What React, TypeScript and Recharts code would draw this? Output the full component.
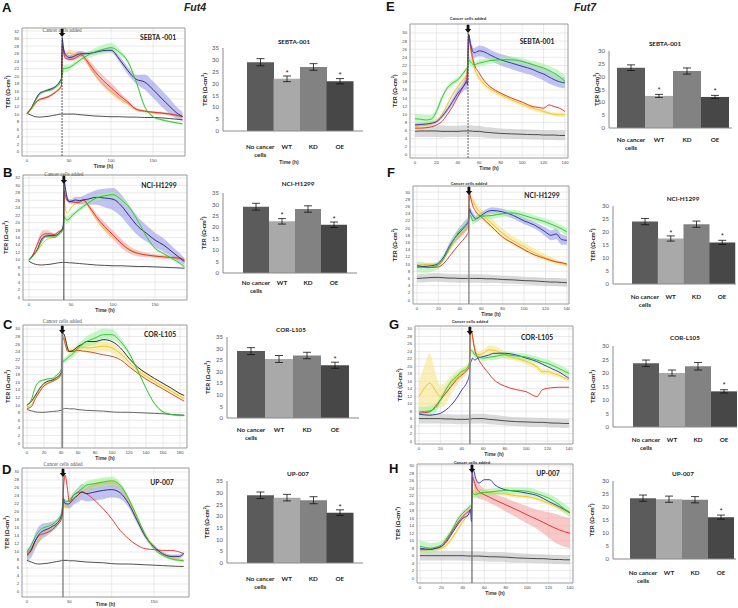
import React from 'react';
import {
  ComposedChart,
  Line,
  Area,
  XAxis,
  YAxis,
  CartesianGrid,
  ReferenceLine,
  ReferenceArea,
  BarChart,
  Bar,
  ErrorBar,
  LabelList,
  Cell,
} from 'recharts';

// ---- time grids (h) ----
const T4 = [0, 5, 10, 15, 20, 25, 30, 35, 40, 41, 42, 43, 45, 48, 50, 55, 60, 65, 70, 80, 90, 100, 110, 120, 130, 140, 150, 160, 170, 180, 185];
const T7 = [0, 5, 10, 15, 20, 25, 30, 35, 40, 45, 47, 48, 49, 50, 52, 55, 60, 65, 70, 80, 90, 100, 110, 115, 120, 125, 130, 135, 140];

const Y32 = [0, 2, 4, 6, 8, 10, 12, 14, 16, 18, 20, 22, 24, 26, 28, 30, 32];
const Y30 = [0, 2, 4, 6, 8, 10, 12, 14, 16, 18, 20, 22, 24, 26, 28, 30];
const X50 = [0, 50, 100, 150];
const X20L = [0, 20, 40, 60, 80, 100, 120, 140, 160, 180];
const X20 = [0, 20, 40, 60, 80, 100, 120, 140];

// ---- Fut4 / SEBTA-001 (A) ----
const A_black = [10.2, 9.7, 9.3, 9.2, 9.3, 9.4, 9.6, 9.8, 10, 10, 10, 10, 10, 10, 10, 10, 9.9, 9.8, 9.7, 9.5, 9.4, 9.3, 9.3, 9.2, 9.2, 9.1, 9.1, 9, 8.8, 8.6, 8.5];
const A_yellow = [10, 11.2, 12.8, 13.8, 14.1, 14.5, 15.2, 16, 17, 17.5, 26, 26.2, 26, 26, 26.2, 25.8, 25.8, 25.8, 24.2, 20.8, 18, 16, 14.2, 12.8, 11.2, 10.7, 10.4, 10.2, 10, 9.5, 9.3];
const A_red = [10.2, 11.5, 13, 13.9, 14.2, 14.6, 15.2, 16, 17.2, 17.8, 28.3, 27, 25, 24.6, 24.5, 24.6, 25.2, 25.7, 24.5, 21.5, 19, 17, 15, 13.2, 11.3, 10.8, 10.5, 10.3, 10, 9.6, 9.3];
const A_navy = [10.2, 11.6, 13.8, 15.5, 16, 16.4, 16.8, 17.5, 19, 19.5, 30, 28, 26, 25.2, 25, 25.2, 25.8, 26, 26, 26.3, 26.8, 26.9, 24.5, 21.5, 19.2, 18.5, 16.5, 14.2, 12, 10, 9.4];
const A_green = [10.2, 11.5, 13.5, 15.2, 15.9, 16.2, 16.5, 17.3, 18.5, 19.2, 20.5, 22, 22.1, 22.2, 22.3, 23, 23.8, 24.6, 25.3, 26.4, 27.1, 27.6, 26.4, 23.9, 18.5, 12, 9.3, 8.5, 8, 7.6, 7.4];
const A_yellowS = [0.3, 0.3, 0.3, 0.3, 0.3, 0.3, 0.3, 0.3, 0.3, 0.3, 0.5, 0.8, 0.8, 0.8, 0.9, 1, 1, 0.8, 0.6, 0.5, 0.6, 0.8, 0.8, 0.5, 0.4, 0.3, 0.3, 0.3, 0.3, 0.3, 0.3];
const A_redS = [0.3, 0.3, 0.3, 0.3, 0.3, 0.3, 0.3, 0.3, 0.3, 0.3, 0.5, 0.6, 0.5, 0.4, 0.4, 0.5, 0.6, 0.6, 0.8, 1.2, 1.3, 1.3, 1, 0.6, 0.4, 0.3, 0.3, 0.3, 0.3, 0.3, 0.3];
const A_navyS = [0.3, 0.3, 0.3, 0.3, 0.3, 0.3, 0.3, 0.3, 0.3, 0.3, 0.6, 1, 0.8, 0.6, 0.6, 0.6, 0.7, 0.7, 0.5, 0.5, 0.5, 0.6, 0.8, 1, 1.2, 2, 2.2, 2.2, 2, 1.5, 1.2];
const A_greenS = [0.3, 0.3, 0.3, 0.3, 0.3, 0.3, 0.3, 0.3, 0.3, 0.3, 0.5, 1, 1, 1, 0.8, 0.6, 0.6, 0.6, 0.8, 1, 1.2, 1.2, 0.8, 0.6, 0.5, 0.4, 0.3, 0.3, 0.3, 0.3, 0.3];

// ---- Fut4 / NCI-H1299 (B) ----
const B_black = [9.6, 9, 8.7, 8.6, 8.7, 8.8, 9, 9.2, 9.3, 9.3, 9.3, 9.3, 9.3, 9.2, 9.2, 9.1, 9, 8.9, 8.8, 8.6, 8.5, 8.4, 8.4, 8.3, 8.2, 8.2, 8.1, 8, 7.9, 7.8, 7.7];
const B_yellow = [10, 11, 12.5, 14, 15.3, 15.8, 16.2, 17, 17.8, 18.5, 28.8, 24.3, 22.5, 23.2, 23.9, 25, 25.3, 25.7, 24.5, 21, 18.3, 16.2, 14.3, 12.8, 11.8, 11.2, 11, 10.8, 10.6, 10.3, 10];
const B_red = [10, 11.5, 14.2, 16.5, 17, 17, 16.8, 17.5, 18.2, 19, 28.4, 27.5, 26.1, 25.7, 25.7, 25.4, 25.5, 26.1, 24.8, 21.6, 18.9, 16.7, 14.4, 12.6, 11.7, 11.3, 11, 10.8, 10.6, 10.4, 9.9];
const B_navy = [9.9, 11.2, 12.8, 15.5, 16.4, 16.5, 16.5, 17, 18.5, 20, 31, 29.7, 27, 25.7, 25.7, 26.1, 25.9, 26.1, 26.3, 26.8, 26.6, 26.3, 24.5, 21.6, 18.9, 17.1, 15.3, 14, 12.2, 10.4, 9.5];
const B_green = [9.9, 11.2, 12.6, 14.9, 16.2, 16.2, 16, 16.7, 18, 18.6, 21.6, 21.2, 20.7, 21, 21.6, 22.6, 23.6, 24.4, 25.2, 26.6, 27.2, 27.5, 26.1, 23.9, 20.3, 16.2, 13.1, 11.7, 10.4, 9, 8.1];
const B_redS = [0.3, 0.4, 0.8, 1.2, 1, 0.6, 0.4, 0.3, 0.3, 0.3, 0.5, 0.6, 0.5, 0.4, 0.4, 0.4, 0.4, 0.5, 0.6, 1, 1.2, 1.2, 1.2, 1, 0.8, 0.6, 0.5, 0.5, 0.5, 0.5, 0.5];
const B_navyS = [0.3, 0.3, 0.3, 0.3, 0.3, 0.3, 0.3, 0.3, 0.3, 0.3, 0.8, 1, 0.8, 0.6, 0.6, 0.8, 1, 1.2, 1.5, 2, 2.5, 3, 3, 2.8, 2.5, 2.2, 2, 1.8, 1.5, 1.2, 1];
const B_greenS = [0.3, 0.3, 0.3, 0.3, 0.3, 0.3, 0.3, 0.3, 0.4, 0.5, 0.8, 1, 1, 0.9, 0.8, 0.7, 0.6, 0.6, 0.6, 0.7, 0.8, 0.8, 0.6, 0.5, 0.5, 0.4, 0.4, 0.4, 0.4, 0.4, 0.4];

// ---- Fut4 / COR-L105 (C) ----
const C_black = [8.8, 8.5, 8.2, 8.1, 8.1, 8.2, 8.3, 8.4, 8.6, 8.7, 8.9, 9, 9.1, 9.1, 9, 9, 8.8, 8.7, 8.6, 8.5, 8.4, 8.2, 8.1, 8.1, 8, 7.9, 7.8, 7.7, 7.5, 7.4, 7.3];
const C_yellow = [9.5, 10, 12, 13.8, 15.2, 15.9, 16.4, 17, 18, 19.5, 27.5, 28, 26.5, 24.5, 24.3, 24.4, 24.8, 25.3, 25, 25.2, 25.5, 25, 23.5, 21.3, 19.2, 17.6, 16.2, 14.9, 13.6, 12.3, 11.7];
const C_red = [9.1, 9.5, 11.7, 13.5, 15, 15.7, 16.2, 16.8, 17.9, 19.2, 27.2, 27.6, 25.9, 24.1, 24.1, 24.1, 24.4, 24.2, 24.1, 23.7, 23.2, 22.8, 21.9, 20.1, 18.4, 16.8, 15.5, 14.2, 12.9, 11.6, 11];
const C_navy = [10, 10.9, 12.6, 14.4, 15.7, 16.3, 16.6, 17.3, 18.4, 20, 28.5, 28.8, 27.6, 24.8, 24.1, 24.5, 25.4, 26, 26.7, 26.7, 27.2, 26.7, 25, 22.3, 20, 18.4, 17, 15.7, 14.4, 13, 12.5];
const C_green = [10, 11.3, 14.8, 16.2, 16.6, 16.9, 17, 17.9, 19.2, 20.1, 21.4, 21.6, 21.9, 22.4, 22.8, 23.7, 25, 25.9, 26.7, 27.6, 28.5, 28.5, 26.7, 23.7, 19.2, 14.4, 10.4, 8.2, 7.5, 7.3, 7.3];
const C_yellowS = [0.3, 0.3, 0.3, 0.3, 0.3, 0.3, 0.3, 0.3, 0.3, 0.3, 0.5, 0.6, 0.6, 0.6, 0.7, 0.8, 1, 1.2, 1.3, 1.3, 1.3, 1.3, 1.2, 1.1, 1, 0.9, 0.8, 0.7, 0.7, 0.6, 0.6];
const C_greenS = [0.3, 0.3, 0.3, 0.3, 0.3, 0.3, 0.3, 0.3, 0.3, 0.3, 0.5, 0.6, 0.7, 0.8, 0.9, 1, 1.1, 1.2, 1.4, 1.6, 1.6, 1.4, 1, 0.6, 0.4, 0.3, 0.3, 0.3, 0.3, 0.3, 0.3];

// ---- Fut4 / UP-007 (D) ----
const D_black = [7.9, 7.5, 7.1, 7, 7.1, 7.2, 7.4, 7.6, 7.8, 7.9, 7.9, 7.9, 7.9, 7.9, 7.8, 7.8, 7.7, 7.6, 7.5, 7.4, 7.3, 7.1, 7, 7, 6.9, 6.8, 6.7, 6.6, 6.5, 6.4, 6.4];
const D_yellow = [8.8, 10.2, 11.7, 13.2, 14.6, 15.2, 15.8, 16.8, 18.3, 19.2, 20.5, 21.7, 21.3, 21.5, 21.7, 23, 24.2, 25, 25.8, 26.7, 27.1, 27.3, 26.3, 22.9, 18.3, 14.2, 11.3, 9.4, 8.6, 8.1, 7.9];
const D_red = [9.6, 10.8, 12.9, 14.2, 14.6, 15, 15.6, 16.7, 17.9, 18.5, 19.6, 25.4, 29.2, 25.4, 22.5, 24.2, 24.8, 25, 24.6, 22.9, 20.8, 18.3, 15.4, 13.3, 11.7, 10.8, 10.6, 10.4, 10.4, 10, 9.6];
const D_navy = [9.2, 10.4, 12.9, 14.6, 15.4, 15.8, 16.4, 17.1, 18.8, 19.5, 20.8, 23.3, 22.1, 22, 22.1, 23.3, 24.2, 25, 24.6, 25, 25.4, 25.6, 24.8, 22.1, 17.9, 13.8, 11.3, 9.6, 8.9, 8.9, 9.6];
const D_green = [10, 11.7, 13.9, 15.4, 16.1, 16.4, 16.9, 17.8, 19.2, 20.2, 21.7, 22.9, 22.5, 22.7, 22.9, 24.2, 25, 25.8, 26.7, 27.1, 27.5, 27.8, 26.7, 23.3, 18.8, 14.2, 10.8, 9.2, 8.3, 7.9, 7.8];
const D_yellowS = [0.5, 0.5, 0.5, 0.5, 0.5, 0.5, 0.5, 0.5, 0.5, 0.5, 0.5, 0.6, 0.6, 0.6, 0.6, 0.7, 0.8, 0.9, 1, 1, 1, 1, 0.8, 0.6, 0.5, 0.4, 0.4, 0.4, 0.4, 0.4, 0.4];
const D_navyS = [1.5, 1.8, 2, 2, 1.8, 1.5, 1.2, 1, 0.8, 0.8, 0.8, 1, 1, 1, 1.2, 1.5, 1.8, 2, 2, 2.2, 2.2, 2, 1.5, 1, 0.8, 0.6, 0.5, 0.5, 0.5, 0.5, 0.5];
const D_greenS = [0.3, 0.3, 0.3, 0.3, 0.3, 0.3, 0.3, 0.3, 0.3, 0.3, 0.5, 0.6, 0.6, 0.6, 0.7, 0.8, 0.9, 1, 1, 1.1, 1.1, 1, 0.8, 0.6, 0.5, 0.4, 0.3, 0.3, 0.3, 0.3, 0.3];

// ---- Fut7 / SEBTA-001 (E) ----
const E_black = [5.8, 5.9, 5.9, 5.9, 5.9, 5.8, 5.8, 5.8, 5.8, 5.9, 5.9, 5.9, 5.9, 5.9, 5.9, 5.8, 5.8, 5.6, 5.5, 5.3, 5.2, 5.1, 5, 5, 4.9, 4.9, 4.9, 4.8, 4.8];
const E_yellow = [7, 7.2, 7.4, 7.8, 8.4, 9.9, 12.3, 14.8, 16.8, 18.5, 19.2, 19.7, 22.2, 29.6, 25.5, 21.8, 18.9, 17.3, 16.3, 14.8, 13.6, 12.5, 11.5, 11.1, 10.7, 10.3, 10, 9.9, 9.9];
const E_red = [6.6, 6.6, 6.7, 6.9, 7.4, 8.2, 9.9, 11.9, 14.4, 16.8, 17.8, 18.5, 21.4, 29.6, 26.3, 22.6, 20.1, 18.1, 16.8, 15.2, 14, 13, 11.9, 11.7, 11.5, 12.3, 11.9, 11.5, 10.7];
const E_navy = [7.4, 7.5, 7.6, 7.8, 8.2, 9.4, 11.1, 13.1, 15.2, 16.8, 17.6, 18.1, 17.3, 29.6, 27.1, 25.1, 25.6, 25.3, 24.6, 23.4, 22.6, 21.8, 21, 20.4, 19.9, 19.2, 18.5, 18, 17.7];
const E_green = [8.9, 8.8, 8.6, 8.8, 10.7, 14, 16.4, 17.7, 18.5, 20.1, 20.8, 21.2, 21.4, 23.5, 22.8, 22.2, 22.6, 22.9, 23.2, 23.4, 23.4, 23, 22.2, 21.8, 21.4, 20.8, 20.1, 19.2, 18.1];
const E_blackS = [1.4, 1.5, 1.5, 1.5, 1.5, 1.5, 1.4, 1.4, 1.4, 1.4, 1.4, 1.4, 1.4, 1.4, 1.4, 1.4, 1.4, 1.3, 1.3, 1.2, 1.2, 1.2, 1.2, 1.2, 1.2, 1.2, 1.2, 1.2, 1.2];
const E_yellowS = [0.8, 0.8, 0.8, 0.6, 0.5, 0.5, 0.5, 0.5, 0.5, 0.5, 0.5, 0.5, 0.5, 0.5, 0.6, 0.7, 0.7, 0.7, 0.7, 0.6, 0.6, 0.6, 0.6, 0.6, 0.5, 0.5, 0.5, 0.5, 0.5];
const E_navyS = [0.4, 0.4, 0.4, 0.4, 0.4, 0.5, 0.6, 0.8, 1, 1.2, 1.5, 2, 2.5, 0.8, 1, 1.2, 1.3, 1.3, 1.3, 1.4, 1.5, 1.5, 1.5, 1.5, 1.6, 1.6, 1.5, 1.4, 1.3];
const E_greenS = [1.2, 1.2, 1.2, 1, 0.8, 0.6, 0.6, 0.6, 0.6, 0.6, 0.6, 0.6, 0.8, 1, 1, 0.8, 0.8, 0.8, 0.8, 0.8, 0.8, 0.8, 0.9, 1, 1, 1.1, 1.2, 1.4, 1.5];

// ---- Fut7 / NCI-H1299 (F) ----
const F_black = [6, 6.1, 6.2, 6.3, 6.3, 6.2, 6.1, 6.1, 6, 6, 6, 6, 6, 6, 6, 6, 6, 5.9, 5.9, 5.7, 5.6, 5.4, 5.3, 5.2, 5.1, 5, 5, 4.9, 4.8];
const F_yellow = [9.7, 9.8, 9.9, 9.9, 10, 11.5, 13.9, 16.2, 18, 19.6, 20.3, 20.8, 29.5, 28.5, 27.7, 25.9, 24, 22.6, 21.2, 18.5, 16.4, 14.8, 13.1, 12.4, 11.8, 11.2, 10.6, 10.2, 9.7];
const F_red = [9.7, 9.3, 9, 9.1, 9.2, 10.2, 12, 13.9, 15.7, 17.4, 18.3, 18.9, 30, 28.6, 26.3, 24.5, 23.1, 21.7, 20.3, 17.5, 15.7, 14, 12.5, 12, 11.5, 11, 10.6, 10.4, 10];
const F_navy = [9.2, 9.3, 9.4, 9.6, 10.2, 12, 14.8, 17.1, 18.9, 20.5, 21.2, 21.7, 25.4, 24.5, 23.5, 22.6, 23.5, 24.5, 24.9, 24.5, 23.5, 22, 20.8, 19.9, 18.9, 18, 18.4, 16.8, 16.6];
const F_green = [9.2, 9.1, 9, 9.2, 9.7, 11.5, 14.3, 17.1, 19.4, 20.8, 21.6, 22.2, 23.1, 23.5, 22, 22.6, 23.3, 23.4, 23.5, 24, 24.2, 23.5, 22.6, 22.2, 21.7, 21.1, 20.5, 19.8, 18.9];
const F_blackS = [1.1, 1.2, 1.2, 1.2, 1.2, 1.2, 1.2, 1.2, 1.2, 1.2, 1.2, 1.2, 1.2, 1.2, 1.2, 1.2, 1.2, 1.2, 1.1, 1.1, 1.1, 1.1, 1.1, 1.1, 1.1, 1.1, 1.1, 1.1, 1.1];
const F_yellowS = [0.4, 0.4, 0.4, 0.4, 0.4, 0.5, 0.6, 0.8, 1, 1, 1, 1, 0.5, 0.8, 1, 1.2, 1.4, 1.5, 1.5, 1.4, 1.3, 1.2, 1.1, 1, 0.9, 0.8, 0.7, 0.6, 0.5];
const F_navyS = [0.4, 0.4, 0.4, 0.4, 0.5, 0.7, 1, 1.2, 1.5, 1.6, 1.6, 1.5, 1, 1, 1, 0.8, 0.8, 0.8, 0.9, 0.9, 0.9, 0.9, 0.9, 1, 1.2, 1.4, 1.5, 1.4, 1.2];
const F_greenS = [1.5, 1.5, 1.4, 1.2, 1, 0.8, 0.7, 0.7, 0.7, 0.7, 0.7, 0.8, 0.9, 1, 1.1, 1, 0.9, 0.9, 0.9, 0.9, 0.9, 0.9, 0.9, 0.9, 1, 1, 1, 1, 1];

// ---- Fut7 / COR-L105 (G) ----
const G_black = [6, 6, 6, 6, 6, 5.9, 5.9, 5.8, 5.8, 5.8, 5.9, 5.9, 5.9, 6, 6, 6, 6, 5.8, 5.7, 5.4, 5.2, 5.1, 5, 5, 4.9, 4.8, 4.8, 4.7, 4.7];
const G_yellow = [11.9, 14.1, 15.5, 13.7, 11.9, 12.8, 15, 16.8, 18.1, 19.5, 20.4, 28.5, 29.4, 27.6, 24.9, 23.1, 23.5, 24.4, 24.3, 23.1, 22.2, 21.3, 19.9, 18.6, 18.6, 18.1, 17.7, 17, 16.4];
const G_red = [7.5, 7.6, 7.8, 9.2, 11, 12.8, 14.6, 16.4, 17.7, 19, 19.9, 28.9, 29.4, 28, 24.4, 22.2, 19.9, 18.1, 16.4, 14.7, 13.8, 13.2, 11.9, 13.7, 14.1, 14.3, 14.4, 14.4, 14.4];
const G_navy = [7.2, 7, 6.9, 7.1, 7.4, 8.3, 9.6, 11.4, 13.7, 15.9, 17.7, 20.8, 21.5, 22.2, 21.7, 22.2, 22.6, 23, 23.5, 23.5, 23.1, 22.2, 21.3, 20.6, 19.9, 19.2, 18.6, 17.7, 16.8];
const G_green = [7.8, 7.9, 8.1, 8.7, 11, 13.7, 15.9, 17.3, 18.6, 19.5, 20.8, 24.4, 24.2, 24, 23.1, 22.6, 22.2, 22.4, 22.6, 23.1, 22.8, 22.5, 21.7, 21.2, 20.8, 20.2, 19.5, 18.8, 18.1];
const G_blackS = [1.3, 1.3, 1.3, 1.3, 1.3, 1.3, 1.3, 1.3, 1.3, 1.3, 1.3, 1.3, 1.3, 1.3, 1.3, 1.3, 1.3, 1.3, 1.3, 1.2, 1.2, 1.2, 1.2, 1.2, 1.2, 1.2, 1.2, 1.2, 1.2];
const G_yellowS = [4, 6, 8, 5, 3, 3, 2.5, 2, 1.5, 1.2, 1, 0.8, 0.8, 0.8, 0.8, 0.8, 1, 1.2, 1.2, 1, 0.8, 0.8, 0.8, 0.8, 0.8, 0.7, 0.7, 0.6, 0.6];
const G_greenS = [1.3, 1.3, 1.3, 1.2, 1, 0.8, 0.8, 0.7, 0.7, 0.7, 0.7, 0.8, 0.8, 0.8, 0.8, 0.8, 0.8, 0.8, 0.9, 0.9, 0.9, 0.9, 0.9, 0.9, 1, 1, 1, 1, 1];

// ---- Fut7 / UP-007 (H) ----
const H_black = [6, 6, 6, 6, 6, 6, 6, 6, 6, 5.9, 5.9, 5.9, 5.9, 5.9, 5.9, 5.9, 5.8, 5.7, 5.7, 5.6, 5.4, 5.3, 5.2, 5.2, 5.1, 5, 5, 4.9, 4.9];
const H_yellow = [7.6, 7.6, 7.6, 7.8, 8, 8.9, 10.7, 12.9, 15.1, 16.9, 17.7, 18.3, 23.6, 23.2, 22.7, 22.7, 22.9, 22.8, 22.7, 22.5, 22, 21.8, 21.1, 20.6, 20, 19.4, 18.7, 18, 17.4];
const H_red = [7.6, 7.6, 7.7, 8, 8.5, 10.2, 12.5, 14.7, 16.5, 17.8, 18.3, 18.7, 27.2, 26.3, 24.5, 23.2, 22.3, 21.6, 20.9, 19.6, 18.3, 16.9, 15.6, 14.9, 14.2, 13.5, 12.9, 12.4, 12];
const H_navy = [8, 7.8, 7.7, 8, 8.5, 9.8, 12, 14.2, 16, 16.9, 18.3, 15.1, 29.4, 28.9, 26.7, 25.4, 26.3, 26.3, 24.9, 23.6, 23.2, 22.7, 22, 21.3, 20.5, 19.8, 19.1, 18.3, 17.5];
const H_green = [8.5, 8.2, 8, 8.3, 8.9, 10.7, 12.9, 15.6, 17.4, 18.7, 19.2, 19.6, 22.7, 22.5, 22.3, 22.7, 22.9, 23, 23.2, 23.4, 23.4, 23.2, 22.5, 22, 21.4, 20.6, 19.6, 18.5, 17.4];
const H_blackS = [1.3, 1.3, 1.3, 1.3, 1.3, 1.3, 1.3, 1.3, 1.3, 1.3, 1.3, 1.3, 1.3, 1.3, 1.3, 1.3, 1.3, 1.3, 1.3, 1.3, 1.3, 1.2, 1.2, 1.2, 1.2, 1.2, 1.2, 1.2, 1.2];
const H_yellowS = [0.4, 0.4, 0.4, 0.4, 0.4, 0.5, 0.5, 0.5, 0.5, 0.5, 0.5, 0.5, 1, 1.2, 1.2, 1.2, 0.8, 0.6, 0.5, 0.5, 0.5, 0.5, 0.5, 0.5, 0.5, 0.5, 0.5, 0.5, 0.5];
const H_redS = [0.4, 0.4, 0.4, 0.4, 0.5, 0.6, 0.7, 0.8, 0.8, 0.8, 0.8, 0.8, 1, 1.5, 2, 2, 1.5, 1.5, 1.5, 1.8, 2, 2.3, 2.6, 3, 3.4, 3.8, 4, 4, 4];
const H_greenS = [1.5, 1.5, 1.4, 1.2, 1, 0.8, 0.7, 0.7, 0.7, 0.7, 0.7, 0.8, 1, 1, 0.9, 0.9, 0.9, 0.9, 0.9, 0.9, 0.9, 1, 1, 1, 1.1, 1.2, 1.3, 1.3, 1.3];

// ---- bar charts: mean TER ----
const CATS = ['No cancer cells', 'WT', 'KD', 'OE'];
const A_bar = [29, 22, 27, 21];
const A_err = [1.5, 1.2, 1.4, 1.1];
const A_star = ['', '*', '', '*'];
const B_bar = [29, 22.6, 28, 21.1];
const B_err = [1.5, 1.2, 1.4, 1.2];
const B_star = ['', '*', '', '*'];
const C_bar = [28.9, 25.5, 27, 22.8];
const C_err = [1.5, 1.5, 1.4, 1.3];
const C_star = ['', '', '', '*'];
const D_bar = [28.9, 27.9, 26.8, 21.5];
const D_err = [1.4, 1.4, 1.5, 1.2];
const D_star = ['', '', '', '*'];
const E_bar = [23.5, 12.5, 22.2, 12.1];
const E_err = [1.1, 0.6, 1.2, 0.6];
const E_star = ['', '*', '', '*'];
const F_bar = [24, 17.5, 23, 16];
const F_err = [1.2, 1, 1.2, 0.8];
const F_star = ['', '*', '', '*'];
const G_bar = [23.6, 20, 22.5, 13.2];
const G_err = [1.2, 1.1, 1.4, 0.6];
const G_star = ['', '', '', '*'];
const H_bar = [23.4, 23, 22.8, 16.1];
const H_err = [1.2, 1.2, 1.2, 0.8];
const H_star = ['', '', '', '*'];

const Y35B = [0, 5, 10, 15, 20, 25, 30, 35];
const Y30B = [0, 5, 10, 15, 20, 25, 30];

// colours
const BLACK = '#3a3a3a';
const NAVY4 = '#1f1f78';
const NAVY7 = '#2a2aae';
const GREEN = '#2dbd2d';
const RED = '#e32222';
const ORANGE = '#f2a33a';
const YELLOW = '#ebc21c';
const GRAY_BAND = '#c2c2c2';
const NAVY_BAND = '#9b9be8';
const GREEN_BAND = '#a3f0a3';
const RED_BAND = '#f5a5a5';
const ORANGE_BAND = '#f9cf95';
const YELLOW_BAND = '#f7e58a';
const BAR_COLORS = ['#5b5b5b', '#a9a9a9', '#828282', '#474747'];

type Series = { key: string; color: string; values: number[]; spread?: number[]; band?: string };

const ser = (key: string, color: string, values: number[], spread?: number[], band?: string): Series => ({
  key,
  color,
  values,
  spread,
  band,
});

type LineCfg = {
  frame: [number, number, number, number];
  times: number[];
  series: Series[];
  xDomain: [number, number];
  xTicks: number[];
  hideX?: number[];
  yDomain: [number, number];
  yTicks: number[];
  cancerT: number;
  cancer: { color: string; width: number; dash?: string };
  fut4: boolean;
  capDy: number;
  terX: number;
  timeOff?: number;
};

const YW = 22;
const MT = 12;
const XH = 18;

function CancerMark(props: any) {
  const { viewBox, fut4, dy } = props;
  if (!viewBox) return null;
  const x = viewBox.x;
  const y = viewBox.y;
  return (
    <g>
      <text
        x={x}
        y={y + dy}
        textAnchor="middle"
        fontSize={fut4 ? 5.2 : 4}
        fontFamily={fut4 ? 'Liberation Serif, serif' : 'Liberation Sans, sans-serif'}
        fontWeight={fut4 ? 400 : 700}
        fill={fut4 ? '#555' : '#333'}
      >
        Cancer cells added
      </text>
      <path d={`M${x - 1.4},${y + 1} h2.8 v4 h1.8 l-3.2,4 l-3.2,-4 h1.8 z`} fill="#111" />
    </g>
  );
}

function LinePanel({ cfg }: { cfg: LineCfg }) {
  const [L, T, R, B] = cfg.frame;
  const rows = cfg.times.map((t, i) => {
    const row: Record<string, any> = { t };
    cfg.series.forEach((s) => {
      row[s.key] = s.values[i];
      if (s.spread) row[`${s.key}Band`] = [s.values[i] - s.spread[i], s.values[i] + s.spread[i]];
    });
    return row;
  });
  const hidden = cfg.hideX || [];
  const tickFont = { fontSize: 4.2, fill: '#444', fontFamily: 'Liberation Sans' };
  return (
    <div style={{ position: 'absolute', left: L - YW, top: T - MT }}>
      <ComposedChart
        width={YW + (R - L) + 1}
        height={MT + (B - T) + XH}
        data={rows}
        margin={{ top: MT, right: 1, bottom: 0, left: 0 }}
      >
        <CartesianGrid stroke="#dcdcdc" strokeWidth={0.6} />
        <XAxis
          type="number"
          dataKey="t"
          domain={cfg.xDomain}
          ticks={cfg.xTicks}
          interval={0}
          allowDataOverflow
          height={XH}
          axisLine={false}
          tickLine={false}
          tickSize={1}
          tick={tickFont}
          tickFormatter={(v: number) => (hidden.includes(v) ? '' : String(v))}
          label={{
            value: 'Time (h)',
            position: 'insideBottom',
            offset: cfg.timeOff ?? 6,
            style: { fontSize: 5, fontWeight: 700, fill: '#333', fontFamily: 'Liberation Sans' },
          }}
        />
        <YAxis
          type="number"
          domain={cfg.yDomain}
          ticks={cfg.yTicks}
          interval={0}
          allowDataOverflow
          width={YW}
          axisLine={false}
          tickLine={false}
          tickSize={2}
          tickMargin={1}
          tick={tickFont}
          label={{
            value: 'TER (Ω·cm²)',
            angle: -90,
            position: 'insideLeft',
            offset: cfg.terX - (L - YW),
            style: { textAnchor: 'middle', fontSize: 6.2, fontWeight: 700, fill: '#222', fontFamily: 'Lato' },
          }}
        />
        {cfg.series
          .filter((s) => s.spread)
          .map((s) => (
            <Area
              key={`${s.key}-band`}
              type="monotone"
              dataKey={`${s.key}Band`}
              stroke="none"
              fill={s.band}
              fillOpacity={0.6}
              activeDot={false}
              isAnimationActive={false}
            />
          ))}
        {cfg.series.map((s) => (
          <Line
            key={s.key}
            type="monotone"
            dataKey={s.key}
            stroke={s.color}
            strokeWidth={0.9}
            dot={false}
            activeDot={false}
            isAnimationActive={false}
          />
        ))}
        <ReferenceArea
          x1={cfg.xDomain[0]}
          x2={cfg.xDomain[1]}
          y1={cfg.yDomain[0]}
          y2={cfg.yDomain[1]}
          fill="none"
          stroke="#8f8f8f"
          strokeWidth={0.8}
        />
        <ReferenceLine
          x={cfg.cancerT}
          stroke={cfg.cancer.color}
          strokeWidth={cfg.cancer.width}
          strokeDasharray={cfg.cancer.dash}
          label={<CancerMark fut4={cfg.fut4} dy={cfg.capDy} />}
        />
      </ComposedChart>
    </div>
  );
}

type BarCfg = {
  values: number[];
  errors: number[];
  stars: string[];
  axisX: number;
  barsL: number;
  barsR: number;
  pad: number;
  yTop: number;
  yBot: number;
  yTicks: number[];
  labelDy: number;
  terX: number;
};

const BYW = 26;
const BMT = 6;
const BXH = 34;

function BarTick(props: any) {
  const { x, y, payload, dy1 } = props;
  const lines = payload.value === 'No cancer cells' ? ['No cancer', 'cells'] : [payload.value];
  return (
    <text x={x} y={y} textAnchor="middle" fontSize={6.3} fontWeight={700} fontFamily="Lato" fill="#222">
      {lines.map((l: string, i: number) => (
        <tspan key={l} x={x} dy={i === 0 ? dy1 : 8}>
          {l}
        </tspan>
      ))}
    </text>
  );
}

function StarMark(props: any) {
  const { x, y, width, value } = props;
  if (!value) return null;
  return (
    <text x={x + width / 2} y={y - 4} textAnchor="middle" fontSize={7} fill="#222" fontFamily="Liberation Sans">
      {value}
    </text>
  );
}

function BarPanel({ cfg }: { cfg: BarCfg }) {
  const rows = CATS.map((c, i) => ({ name: c, v: cfg.values[i], err: cfg.errors[i], star: cfg.stars[i] }));
  const yMax = cfg.yTicks[cfg.yTicks.length - 1];
  return (
    <div style={{ position: 'absolute', left: cfg.axisX - BYW, top: cfg.yTop - BMT }}>
      <BarChart
        width={BYW + (cfg.barsR + cfg.pad - cfg.axisX)}
        height={BMT + (cfg.yBot - cfg.yTop) + BXH}
        data={rows}
        margin={{ top: BMT, right: 0, bottom: 0, left: 0 }}
        barCategoryGap={0}
        barGap={0}
      >
        <XAxis
          dataKey="name"
          height={BXH}
          interval={0}
          padding={{ left: cfg.barsL - cfg.axisX, right: cfg.pad }}
          tickLine={false}
          tickSize={0}
          axisLine={{ stroke: '#8a8a8a' }}
          tick={<BarTick dy1={cfg.labelDy} />}
        />
        <YAxis
          type="number"
          domain={[0, yMax]}
          ticks={cfg.yTicks}
          interval={0}
          width={BYW}
          axisLine={{ stroke: '#8a8a8a' }}
          tickLine={false}
          tickSize={0}
          tickMargin={4}
          tick={{ fontSize: 6, fill: '#555', fontFamily: 'Lato' }}
          label={{
            value: 'TER (Ω·cm²)',
            angle: -90,
            position: 'insideLeft',
            offset: cfg.terX - (cfg.axisX - BYW),
            style: { textAnchor: 'middle', fontSize: 6.2, fontWeight: 700, fill: '#222', fontFamily: 'Lato' },
          }}
        />
        <Bar dataKey="v" isAnimationActive={false}>
          {rows.map((r, i) => (
            <Cell key={r.name} fill={BAR_COLORS[i]} />
          ))}
          <ErrorBar dataKey="err" width={4} stroke="#111" strokeWidth={0.8} />
          <LabelList dataKey="star" content={StarMark} />
        </Bar>
      </BarChart>
    </div>
  );
}

// ---- panel set-up ----
const LINE_PANELS: LineCfg[] = [
  {
    frame: [22, 28, 185, 156], times: T4, xDomain: [-6, 188], xTicks: X50, yDomain: [-1.1, 32.8], yTicks: Y32,
    cancerT: 41.7, cancer: { color: '#333', width: 0.8, dash: '2 1' }, fut4: true, capDy: 4, terX: 8,
    series: [
      ser('black', BLACK, A_black),
      ser('yellow', ORANGE, A_yellow, A_yellowS, ORANGE_BAND),
      ser('red', RED, A_red, A_redS, RED_BAND),
      ser('navy', NAVY4, A_navy, A_navyS, NAVY_BAND),
      ser('green', GREEN, A_green, A_greenS, GREEN_BAND),
    ],
  },
  {
    frame: [23, 175, 187, 300], times: T4, xDomain: [-7.1, 188], xTicks: X50, yDomain: [-0.8, 32.8], yTicks: Y32,
    cancerT: 41.5, cancer: { color: '#444', width: 1 }, fut4: true, capDy: 1, terX: 6,
    series: [
      ser('black', BLACK, B_black),
      ser('yellow', YELLOW, B_yellow),
      ser('red', RED, B_red, B_redS, RED_BAND),
      ser('navy', NAVY4, B_navy, B_navyS, NAVY_BAND),
      ser('green', GREEN, B_green, B_greenS, GREEN_BAND),
    ],
  },
  {
    frame: [23, 325, 187, 448], times: T4, xDomain: [-4.7, 188.2], xTicks: X20L, yDomain: [-1.3, 31.05], yTicks: Y30,
    cancerT: 41.5, cancer: { color: '#8a8a8a', width: 1.8 }, fut4: true, capDy: -2.5, terX: 8,
    series: [
      ser('black', '#555', C_black),
      ser('yellow', YELLOW, C_yellow, C_yellowS, YELLOW_BAND),
      ser('red', '#c8401a', C_red),
      ser('navy', '#1a1a2e', C_navy),
      ser('green', GREEN, C_green, C_greenS, GREEN_BAND),
    ],
  },
  {
    frame: [22, 468, 189, 597], times: T4, xDomain: [-5.9, 191.3], xTicks: X50, hideX: [100], yDomain: [-1.25, 31], yTicks: Y30,
    cancerT: 42.5, cancer: { color: '#555', width: 1 }, fut4: true, capDy: -2, terX: 7, timeOff: 9.5,
    series: [
      ser('black', BLACK, D_black),
      ser('yellow', YELLOW, D_yellow, D_yellowS, YELLOW_BAND),
      ser('red', RED, D_red),
      ser('navy', NAVY4, D_navy, D_navyS, NAVY_BAND),
      ser('green', GREEN, D_green, D_greenS, GREEN_BAND),
    ],
  },
  {
    frame: [410, 24, 568, 158], times: T7, xDomain: [-4.7, 142.8], xTicks: X20, yDomain: [-0.74, 32.2], yTicks: Y30,
    cancerT: 49.5, cancer: { color: '#444', width: 0.8, dash: '2 1' }, fut4: false, capDy: -4.5, terX: 395,
    series: [
      ser('black', BLACK, E_black, E_blackS, GRAY_BAND),
      ser('yellow', YELLOW, E_yellow, E_yellowS, YELLOW_BAND),
      ser('red', RED, E_red),
      ser('navy', NAVY7, E_navy, E_navyS, NAVY_BAND),
      ser('green', GREEN, E_green, E_greenS, GREEN_BAND),
    ],
  },
  {
    frame: [413, 186, 569, 304], times: T7, xDomain: [-3.7, 141.9], xTicks: X20, yDomain: [-1.1, 31.7], yTicks: Y30,
    cancerT: 48.5, cancer: { color: '#777', width: 1.2 }, fut4: false, capDy: -1.5, terX: 395,
    series: [
      ser('black', BLACK, F_black, F_blackS, GRAY_BAND),
      ser('yellow', YELLOW, F_yellow, F_yellowS, YELLOW_BAND),
      ser('red', RED, F_red),
      ser('navy', NAVY7, F_navy, F_navyS, NAVY_BAND),
      ser('green', GREEN, F_green, F_greenS, GREEN_BAND),
    ],
  },
  {
    frame: [415, 326, 573, 444], times: T7, xDomain: [-3.7, 143.7], xTicks: X20, yDomain: [-0.8, 30.8], yTicks: Y30,
    cancerT: 47.5, cancer: { color: '#888', width: 1.5 }, fut4: false, capDy: -3.5, terX: 400,
    series: [
      ser('black', BLACK, G_black, G_blackS, GRAY_BAND),
      ser('yellow', YELLOW, G_yellow, G_yellowS, YELLOW_BAND),
      ser('red', RED, G_red),
      ser('navy', NAVY7, G_navy),
      ser('green', GREEN, G_green, G_greenS, GREEN_BAND),
    ],
  },
  {
    frame: [417, 464, 573, 583], times: T7, xDomain: [-2.8, 142.8], xTicks: X20, yDomain: [-1.3, 30.5], yTicks: Y30,
    cancerT: 48.5, cancer: { color: '#666', width: 1.2 }, fut4: false, capDy: -0.5, terX: 398,
    series: [
      ser('black', BLACK, H_black, H_blackS, GRAY_BAND),
      ser('yellow', YELLOW, H_yellow, H_yellowS, YELLOW_BAND),
      ser('red', RED, H_red, H_redS, RED_BAND),
      ser('navy', NAVY7, H_navy),
      ser('green', GREEN, H_green, H_greenS, GREEN_BAND),
    ],
  },
];

const BAR_PANELS: BarCfg[] = [
  { values: A_bar, errors: A_err, stars: A_star, axisX: 223, barsL: 247, barsR: 353, pad: 10, yTop: 48, yBot: 131, yTicks: Y35B, labelDy: 16, terX: 205 },
  { values: B_bar, errors: B_err, stars: B_star, axisX: 223, barsL: 243, barsR: 347, pad: 10, yTop: 193, yBot: 273, yTicks: Y35B, labelDy: 9.5, terX: 204 },
  { values: C_bar, errors: C_err, stars: C_star, axisX: 227, barsL: 237, barsR: 349, pad: 10, yTop: 337, yBot: 418, yTicks: Y35B, labelDy: 12, terX: 208 },
  { values: D_bar, errors: D_err, stars: D_star, axisX: 227, barsL: 247, barsR: 353, pad: 10, yTop: 481, yBot: 563, yTicks: Y35B, labelDy: 16, terX: 207 },
  { values: E_bar, errors: E_err, stars: E_star, axisX: 609, barsL: 617, barsR: 729, pad: 3, yTop: 51, yBot: 128, yTicks: Y30B, labelDy: 12, terX: 597 },
  { values: F_bar, errors: F_err, stars: F_star, axisX: 613, barsL: 632, barsR: 735, pad: 1, yTop: 206, yBot: 284, yTicks: Y30B, labelDy: 12.7, terX: 593 },
  { values: G_bar, errors: G_err, stars: G_star, axisX: 613, barsL: 633, barsR: 737, pad: 0, yTop: 346, yBot: 427, yTicks: Y30B, labelDy: 12.7, terX: 593 },
  { values: H_bar, errors: H_err, stars: H_star, axisX: 613, barsL: 630, barsR: 734, pad: 2, yTop: 481, yBot: 559, yTicks: Y30B, labelDy: 14.4, terX: 592 },
];

// panel letters, gene headings and titles
const LETTERS: [string, number, number][] = [
  ['A', 2, 12], ['B', 3, 177], ['C', 3, 329], ['D', 2, 474],
  ['E', 386, 11], ['F', 387, 177], ['G', 389, 329], ['H', 389, 473],
];
const NAMES: [string, number, number][] = [
  ['SEBTA -001', 158, 40], ['NCI-H1299', 159, 188], ['COR-L105', 160, 337], ['UP-007', 162, 485],
  ['SEBTA-001', 537, 44], ['NCI-H1299', 542, 198], ['COR-L105', 537, 340], ['UP-007', 548, 476],
  ['SEBTA-001', 294, 44], ['NCI-H1299', 298, 186], ['COR-L105', 291, 332], ['UP-007', 298, 476],
  ['SEBTA-001', 665, 46], ['NCI-H1299', 683, 201], ['COR-L105', 685, 340], ['UP-007', 683, 476],
];

export default function App() {
  return (
    <div
      style={{
        position: 'absolute',
        left: 0,
        top: 0,
        width: 738,
        height: 608,
        overflow: 'hidden',
        background: '#fff',
        fontFamily: 'Liberation Sans, sans-serif',
      }}
    >
      {LINE_PANELS.map((cfg, i) => (
        <LinePanel key={`l${i}`} cfg={cfg} />
      ))}
      {BAR_PANELS.map((cfg, i) => (
        <BarPanel key={`b${i}`} cfg={cfg} />
      ))}
      <svg width={738} height={608} style={{ position: 'absolute', left: 0, top: 0, pointerEvents: 'none' }}>
        {LETTERS.map(([t, x, y]) => (
          <text key={t} x={x} y={y} fontSize={13} fontWeight={700} fontFamily="Liberation Sans" fill="#111">
            {t}
          </text>
        ))}
        <text x={195} y={11} textAnchor="middle" fontSize={10.5} fontWeight={700} fontStyle="italic" fontFamily="Liberation Sans" fill="#222">
          Fut4
        </text>
        <text x={585} y={11} textAnchor="middle" fontSize={10.5} fontWeight={700} fontStyle="italic" fontFamily="Liberation Sans" fill="#222">
          Fut7
        </text>
        {NAMES.map(([t, x, y], i) => (
          <text key={`n${i}`} x={x} y={y} textAnchor="middle" fontSize={i < 8 ? 6.8 : 6.3} fontWeight={700} fontFamily="Lato" fill="#222">
            {t}
          </text>
        ))}
        <text x={289} y={164} textAnchor="middle" fontSize={5} fontWeight={700} fontFamily="Liberation Sans" fill="#333">
          Time (h)
        </text>
      </svg>
    </div>
  );
}
